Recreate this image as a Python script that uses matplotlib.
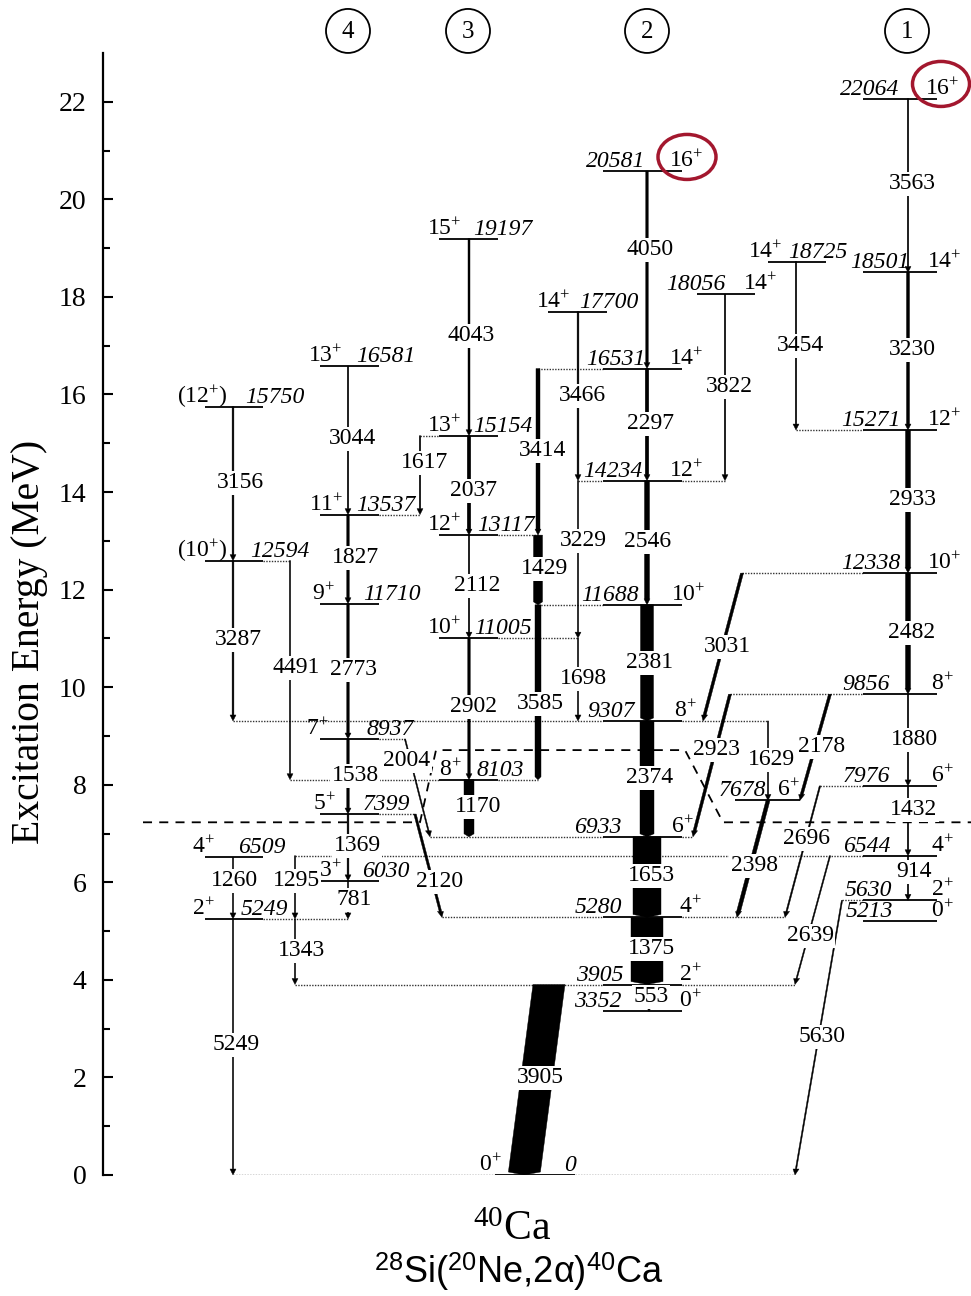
import matplotlib
matplotlib.use("Agg")
import matplotlib.pyplot as plt
from matplotlib.patches import Polygon, Ellipse

plt.rcParams['font.family'] = ['Liberation Serif', 'DejaVu Serif']
plt.rcParams['mathtext.fontset'] = 'custom'
plt.rcParams['mathtext.rm'] = 'Liberation Serif'
plt.rcParams['mathtext.it'] = 'Liberation Serif:italic'
plt.rcParams['mathtext.sf'] = 'Liberation Sans'

# levels of 40Ca in keV, with spins
level_keV = [22064, 18501, 15271, 12338, 9856, 7976, 6544, 5630, 5213,
             20581, 16531, 14234, 11688, 9307, 6933, 5280, 3905, 3352, 0,
             19197, 15154, 13117, 11005, 8103,
             16581, 13537, 11710, 8937, 7399, 6030,
             15750, 12594, 6509, 5249,
             17700, 18056, 18725, 7678]
level_spin = ["16+", "14+", "12+", "10+", "8+", "6+", "4+", "2+", "0+",
              "16+", "14+", "12+", "10+", "8+", "6+", "4+", "2+", "0+", "0+",
              "15+", "13+", "12+", "10+", "8+",
              "13+", "11+", "9+", "7+", "5+", "3+",
              "(12+)", "(10+)", "4+", "2+",
              "14+", "14+", "14+", "6+"]

# gamma rays (keV) and the levels they connect
gamma_keV = [3563, 3230, 2933, 2482, 1880, 1432, 914,
             4050, 2297, 2546, 2381, 2374, 1653, 1375, 553, 3905,
             3466, 3229, 1698, 3414, 1429, 3585, 3822, 3454,
             4043, 2037, 2112, 2902, 1170, 1617,
             3044, 1827, 2773, 1538, 1369, 781, 1295, 1343,
             3156, 3287, 4491, 1260, 5249,
             2004, 2120, 3031, 2923, 1629, 2178, 2398, 2696, 2639, 5630]
gamma_from = [22064, 18501, 15271, 12338, 9856, 7976, 6544,
              20581, 16531, 14234, 11688, 9307, 6933, 5280, 3905, 3905,
              17700, 14234, 11005, 16531, 13117, 11688, 18056, 18725,
              19197, 15154, 13117, 11005, 8103, 15154,
              16581, 13537, 11710, 8937, 7399, 6030, 6544, 5249,
              15750, 12594, 12594, 6509, 5249,
              8937, 7399, 12338, 9856, 9307, 9856, 7678, 7976, 6544, 5630]
gamma_to = [18501, 15271, 12338, 9856, 7976, 6544, 5630,
            16531, 14234, 11688, 9307, 6933, 5280, 3905, 3352, 0,
            14234, 11005, 9307, 13117, 11688, 8103, 14234, 15271,
            15154, 13117, 11005, 8103, 6933, 13537,
            13537, 11710, 8937, 7399, 6030, 5249, 5249, 3905,
            12594, 9307, 8103, 5249, 0,
            6933, 5280, 9307, 6933, 7678, 7678, 5280, 5280, 3905, 0]

band_names = ["4", "3", "2", "1"]
thresh_low, thresh_high = 7.23, 8.71   # dashed lines, MeV

# ---- layout (pixel x positions) ----
# level: line x0, x1, spin label x, energy label x
lev_pos = {
    22064: (863, 937, 942, 870), 18501: (863, 937, 944, 880), 15271: (863, 937, 944, 871),
    12338: (863, 937, 944, 871), 9856: (863, 937, 942, 866), 7976: (863, 937, 942, 866),
    6544: (863, 937, 942, 867), 5630: (863, 937, 942, 868), 5213: (863, 937, 942, 869),
    20581: (603, 682, 686, 616), 16531: (603, 682, 686, 616), 14234: (603, 682, 686, 613),
    11688: (603, 682, 688, 610), 9307: (603, 682, 685, 611), 6933: (603, 682, 682, 598),
    5280: (603, 682, 690, 598), 3905: (603, 682, 690, 600), 3352: (603, 682, 690, 598),
    0: (495, 575, 490, 570),
    19197: (439, 498, 444, 503), 15154: (439, 498, 444, 503), 13117: (439, 498, 444, 506),
    11005: (439, 498, 444, 503), 8103: (439, 498, 450, 500),
    16581: (320, 379, 325, 386), 13537: (320, 379, 326, 386), 11710: (320, 379, 323, 392),
    8937: (320, 379, 317, 390), 7399: (320, 379, 324, 386), 6030: (320, 379, 330, 386),
    15750: (205, 263, 202, 275), 12594: (205, 263, 202, 280), 6509: (205, 263, 203, 262),
    5249: (205, 263, 203, 264),
    17700: (548, 607, 553, 609), 18056: (697, 755, 760, 696), 18725: (768, 826, 765, 818),
    7678: (735, 800, 788, 742),
}
# dotted extensions of levels
lev_dots = {
    15271: [(796, 863)], 12338: [(742, 863)], 9856: [(730, 863)], 7976: [(820, 863)],
    6544: [(295, 863)], 5630: [(842, 863)],
    16531: [(538, 603)], 14234: [(578, 603), (682, 725)], 11688: [(538, 603)],
    9307: [(233, 603), (682, 768)], 6933: [(430, 603), (682, 693)],
    5280: [(442, 603), (682, 785)], 3905: [(295, 603), (682, 795)],
    0: [(233, 495), (575, 795)],
    15154: [(420, 439)], 13117: [(498, 538)], 11005: [(498, 578)],
    8103: [(290, 439), (498, 538)],
    13537: [(379, 420)], 8937: [(379, 405)], 7399: [(379, 415)],
    5249: [(263, 348)], 12594: [(263, 290)],
}
# gamma: x top, x bottom, width(px), label x, label y(px)
gam_pos = [
    (908, 908, 1.5, 912, 184), (908, 908, 3, 912, 350), (908, 908, 5, 912, 500),
    (908, 908, 5, 912, 633), (908, 908, 1.5, 914, 740), (908, 908, 1.5, 914, 810),
    (908, 908, 1.5, 914, 872),
    (647, 647, 2.5, 650, 250), (647, 647, 3.5, 650, 424), (647, 647, 5, 648, 542),
    (647, 647, 13, 650, 663), (647, 647, 14, 650, 778), (647, 647, 28, 651, 876),
    (647, 647, 32, 651, 949), (649, 649, 1.2, 651, 997), (549, 524, 32, 540, 1078),
    (578, 578, 1.8, 582, 396), (578, 578, 1.3, 583, 541), (578, 578, 1.3, 583, 679),
    (538, 538, 4, 543, 451), (538, 538, 9, 545, 569), (538, 538, 6, 540, 704),
    (725, 725, 1.5, 729, 387), (796, 796, 1.5, 800, 346),
    (469, 469, 2, 471, 336), (469, 469, 3.5, 473, 491), (469, 469, 1.5, 477, 586),
    (469, 469, 2.5, 473, 707), (469, 469, 10, 478, 807), (420, 420, 1.5, 425, 463),
    (348, 348, 1.5, 352, 439), (348, 348, 2.5, 355, 558), (348, 348, 2.5, 353, 670),
    (348, 348, 2.5, 355, 776), (348, 348, 1.8, 357, 846), (348, 348, 1.3, 354, 900),
    (295, 295, 1.3, 296, 881), (295, 295, 1.3, 302, 951),
    (233, 233, 1.8, 240, 483), (233, 233, 1.8, 238, 640), (290, 290, 1.3, 296, 668),
    (233, 233, 1.3, 234, 881), (233, 233, 1.3, 236, 1045),
    (405, 430, 1.3, 407, 761), (415, 442, 2.5, 440, 882), (742, 703, 3, 727, 647),
    (730, 693, 3, 716, 750), (768, 768, 1.3, 771, 760), (830, 800, 3, 822, 747),
    (768, 737, 4, 754, 866), (820, 785, 1.5, 806, 839), (830, 795, 1.3, 810, 936),
    (842, 795, 1.3, 822, 1037),
]
band_x = [348, 468, 647, 907]

PX = 48.78  # pixels per MeV


def ypx(p):
    return (1175 - p) / PX


def spin_tex(s):
    return s.replace("+", "$^{+}$")


fig = plt.figure(figsize=(9.71, 12.96), dpi=100)
ax = fig.add_axes([103 / 971, 1 - 1175 / 1296, 868 / 971, 1122 / 1296])
ax.set_xlim(103, 971)
ax.set_ylim(0, 23)

for s in ['top', 'right', 'bottom']:
    ax.spines[s].set_visible(False)
ax.spines['left'].set_linewidth(1.6)
ax.set_xticks([])
ax.set_yticks(range(0, 23, 2))
ax.set_yticks(range(1, 23, 2), minor=True)
ax.tick_params(axis='y', which='both', direction='in', width=1.5, labelsize=20, pad=12)
ax.tick_params(axis='y', which='major', length=7)
ax.tick_params(axis='y', which='minor', length=5)
fig.text(30 / 971, 1 - 642 / 1296, "Excitation Energy (MeV)", rotation=90,
         ha='center', va='center', fontsize=28.5)

fs = 17

# levels
for e, sp in zip(level_keV, level_spin):
    x0, x1, xs, xe = lev_pos[e]
    y = e / 1000
    ax.plot([x0, x1], [y, y], color='k', lw=1.3, zorder=2, solid_capstyle='butt')
    for a, b in lev_dots.get(e, []):
        ax.plot([a, b], [y, y], color='#333333', lw=1.0, ls=(0, (1, 1)), zorder=1)
    ax.text(xs, y + 4 / PX, spin_tex(sp), ha='center', va='baseline', fontsize=fs, zorder=4)
    ax.text(xe, y + 4 / PX, str(e), ha='center', va='baseline', fontsize=fs,
            style='italic', zorder=4)

# gamma transitions as arrows
for g, ef, et, (xt, xb, w, lx, ly) in zip(gamma_keV, gamma_from, gamma_to, gam_pos):
    yt, yb = ef / 1000, et / 1000
    hw = w / 2
    hh = max(hw, 3.0)
    hl = (6 if w < 6 else 3) / PX
    ys = yb + hl
    t = (yt - ys) / (yt - yb)
    xs = xt + (xb - xt) * t
    pts = [(xt - hw, yt), (xt + hw, yt), (xs + hw, ys), (xs + hh, ys), (xb, yb),
           (xs - hh, ys), (xs - hw, ys)]
    ax.add_patch(Polygon(pts, closed=True, fc='k', ec='k', lw=0.3, zorder=3))
    ax.text(lx, ypx(ly), str(g), ha='center', va='center', fontsize=fs, zorder=5,
            bbox=dict(fc='white', ec='none', pad=1.0))

# dashed threshold lines
ax.plot([143, 420, 436, 685, 723, 971],
        [thresh_low, thresh_low, thresh_high, thresh_high, thresh_low, thresh_low],
        color='k', lw=1.3, ls=(0, (5, 4)), zorder=2, clip_on=False)

# band numbers in circles
for name, bx in zip(band_names, band_x):
    ax.add_patch(Ellipse((bx, ypx(31)), 44, 44 / PX, fill=False, ec='k', lw=1.3,
                         clip_on=False))
    ax.text(bx, ypx(32), name, ha='center', va='center', fontsize=18, clip_on=False)

# red marks on the 16+ states
ax.add_patch(Ellipse((687, ypx(157)), 58, 45 / PX, fill=False, ec='#A3172E', lw=2.5,
                     clip_on=False, zorder=6))
ax.add_patch(Ellipse((941, ypx(84)), 57, 45 / PX, fill=False, ec='#A3172E', lw=2.5,
                     clip_on=False, zorder=6))

ax.text(512, ypx(1240), "$^{40}$Ca", ha='center', va='baseline', fontsize=30, clip_on=False)
ax.text(519, ypx(1272), r"$^{\mathsf{28}}$Si($^{\mathsf{20}}$Ne,2α)$^{\mathsf{40}}$Ca",
        ha='center', va='center', fontsize=26, family=['Liberation Sans', 'DejaVu Sans'],
        clip_on=False)

fig.savefig("out.png", dpi=100)
